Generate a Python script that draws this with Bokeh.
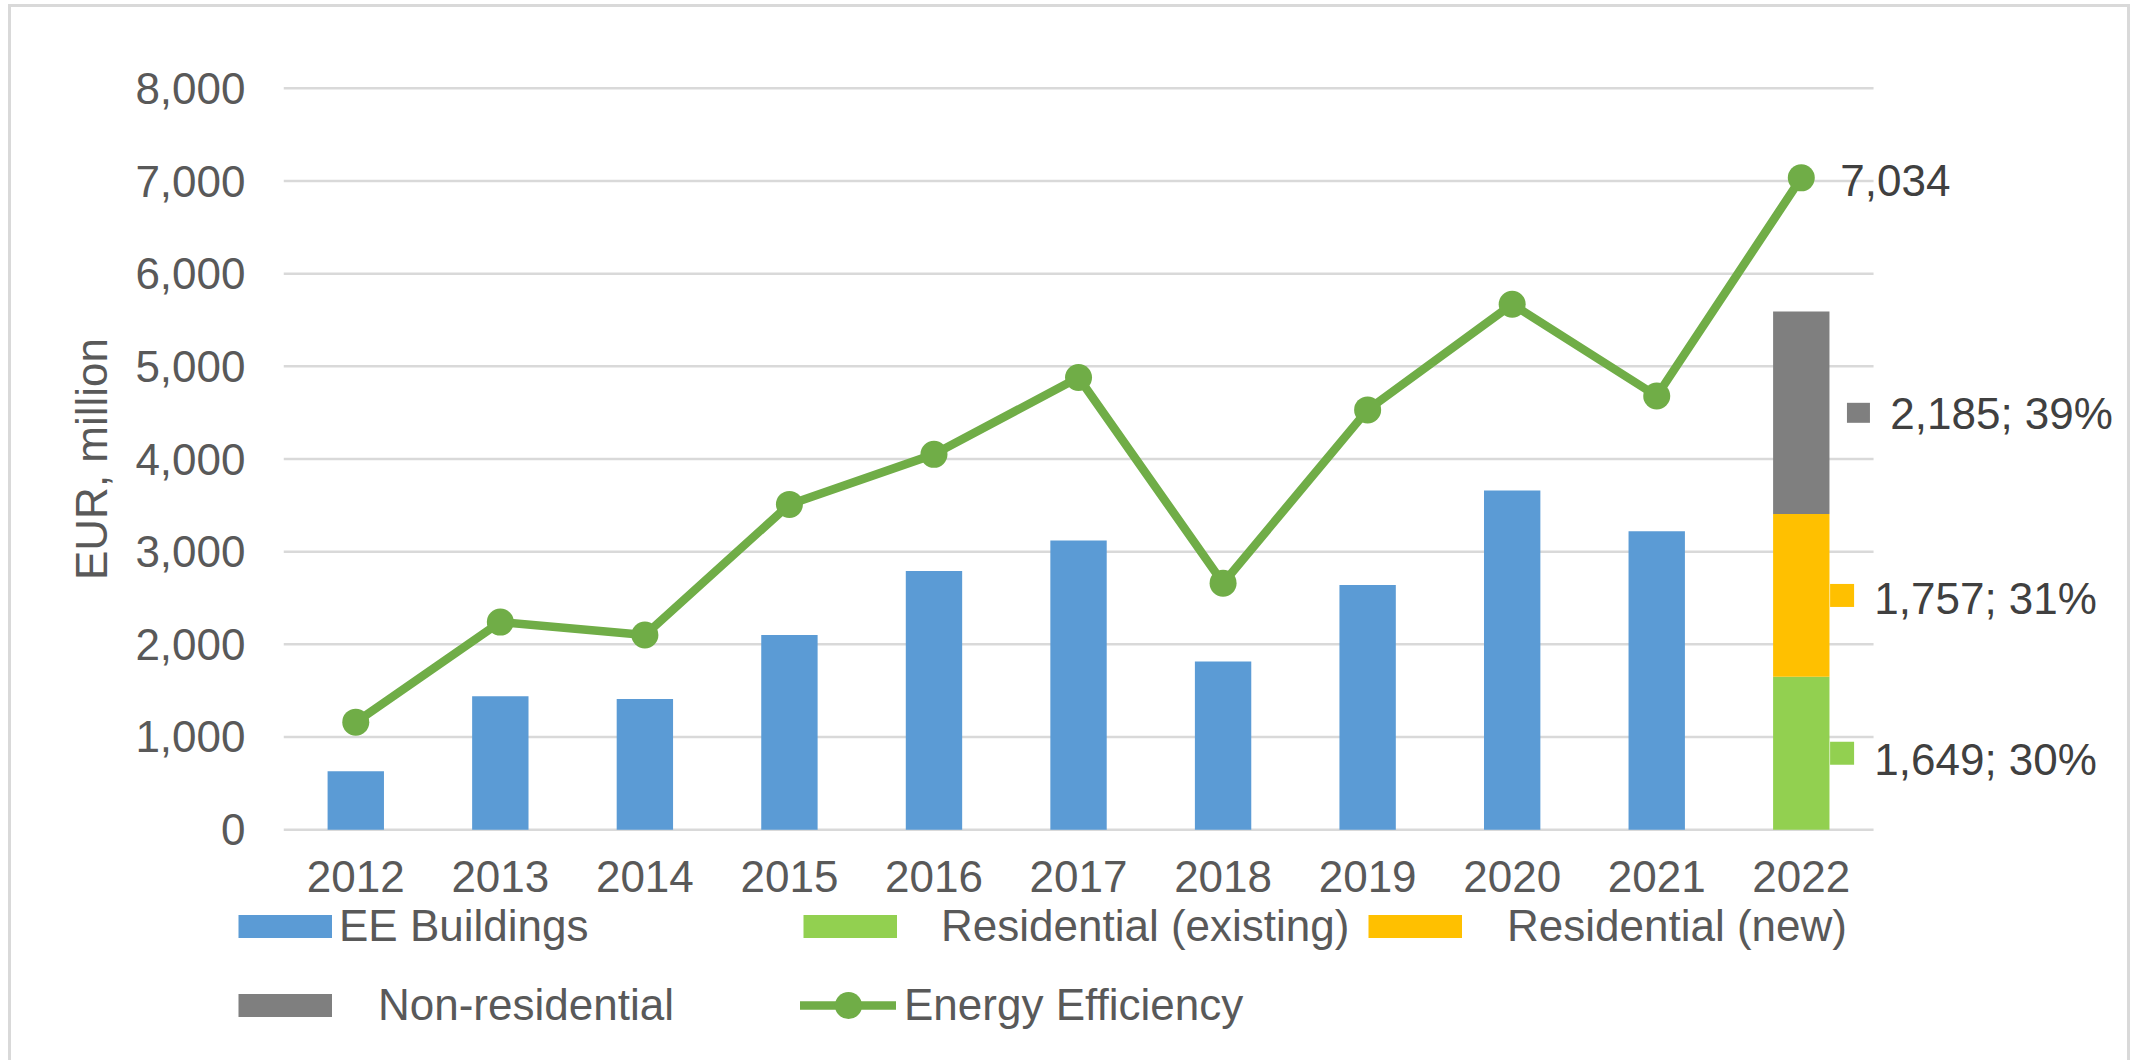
from bokeh.plotting import figure
from bokeh.layouts import column
from bokeh.models import Range1d, FixedTicker, NumeralTickFormatter, Legend, LegendItem, ColumnDataSource
from bokeh.core.properties import value
from bokeh.embed import file_html
from bokeh.resources import INLINE

# ---------------- data ----------------
years = ["2012", "2013", "2014", "2015", "2016", "2017", "2018", "2019", "2020", "2021", "2022"]
ee_buildings = [630, 1440, 1410, 2100, 2790, 3120, 1815, 2640, 3660, 3220]          # 2012-2021
energy_efficiency = [1160, 2240, 2100, 3510, 4050, 4880, 2660, 4530, 5670, 4680, 7034]
stack_year = ["2022"]
residential_existing = [1649]
residential_new = [1757]
non_residential = [2185]
stack_shares = [30, 31, 39]
y_ticks = [0, 1000, 2000, 3000, 4000, 5000, 6000, 7000, 8000]

# ---------------- style ----------------
FONT = "Liberation Sans"
FS = "44px"
BLUE = "#5B9BD5"
LGREEN = "#92D050"
ORANGE = "#FFC000"
GRAY = "#7F7F7F"
LINEG = "#70AD47"
GRID = "#D9D9D9"
TXT = "#595959"
DARK = "#404040"
BAR_W = 0.39
W = 2116
NAN = float("nan")

xi = list(range(len(years)))
xpos = {y: i for i, y in enumerate(years)}

p = figure(width=W, height=904, output_backend="svg", toolbar_location=None,
           x_range=Range1d(-0.5, 12.236), y_range=Range1d(-20, 8020),
           min_border_left=272, min_border_right=3, min_border_top=79, min_border_bottom=80)
p.outline_line_color = None
p.xgrid.visible = False
p.ygrid.visible = False

# horizontal gridlines limited to the category area
p.segment(x0=[-0.5] * len(y_ticks), x1=[len(years) - 0.5] * len(y_ticks), y0=y_ticks, y1=y_ticks,
          line_color=GRID, line_width=2.5)

# EE Buildings bars
p.vbar(x=xi[:len(ee_buildings)], top=ee_buildings, width=BAR_W, fill_color=BLUE, line_color=None)

# 2022 stacked bar
src = ColumnDataSource(dict(x=[xpos[y] for y in stack_year], res_existing=residential_existing,
                            res_new=residential_new, non_res=non_residential))
p.vbar_stack(["res_existing", "res_new", "non_res"], x="x", width=BAR_W, source=src,
             fill_color=[LGREEN, ORANGE, GRAY], line_color=None)

# Energy efficiency line
p.line(xi, energy_efficiency, line_width=8.5, line_color=LINEG, line_join="round", line_cap="round")
p.scatter(xi, energy_efficiency, size=27, fill_color=LINEG, line_color=None)

p.text(x=[xi[-1]], y=[energy_efficiency[-1]], text=[f"{energy_efficiency[-1]:,}"],
       x_offset=39, y_offset=3, text_baseline="middle", text_align="left",
       text_font=value(FONT), text_font_size=FS, text_color=DARK)

# data labels of stacked segments
seg_vals = [residential_existing[0], residential_new[0], non_residential[0]]
mids, acc = [], 0
for v in seg_vals:
    mids.append(acc + v / 2)
    acc += v
sx = xpos[stack_year[0]]
lab = ColumnDataSource(dict(
    xm=[sx + 0.2823, sx + 0.2823, sx + 0.3955],
    y=mids,
    mw=[24, 24, 23], mh=[23, 23, 20],
    color=[LGREEN, ORANGE, GRAY],
    x=[sx] * 3,
    xo=[73, 73, 89],
    yo=[6, 3, 1],
    text=[f"{v:,}; {s}%" for v, s in zip(seg_vals, stack_shares)],
))
p.rect(x="xm", y="y", width="mw", height="mh", width_units="screen", height_units="screen",
       fill_color="color", line_color=None, source=lab)
p.text(x="x", y="y", text="text", x_offset="xo", y_offset="yo", text_baseline="middle", text_align="left",
       text_font=value(FONT), text_font_size=FS, text_color=DARK, source=lab)

# axes
p.yaxis.ticker = FixedTicker(ticks=y_ticks)
p.yaxis.formatter = NumeralTickFormatter(format="0,0")
p.xaxis.ticker = FixedTicker(ticks=xi)
p.xaxis.major_label_overrides = {i: y for i, y in enumerate(years)}
for ax in (p.xaxis, p.yaxis):
    ax.axis_line_color = None
    ax.major_tick_line_color = None
    ax.minor_tick_line_color = None
    ax.major_tick_out = 0
    ax.major_tick_in = 0
    ax.minor_tick_out = 0
    ax.major_label_text_font = FONT
    ax.major_label_text_font_size = FS
    ax.major_label_text_color = TXT
p.yaxis.major_label_standoff = 38
p.xaxis.major_label_standoff = 29
p.yaxis.axis_label = "EUR, million"
p.yaxis.axis_label_text_font = FONT
p.yaxis.axis_label_text_font_size = FS
p.yaxis.axis_label_text_font_style = "normal"
p.yaxis.axis_label_text_color = TXT
p.yaxis.axis_label_standoff = 16

# ---------------- legend strip ----------------
LEG_H = 161
p2 = figure(width=W, height=LEG_H, output_backend="svg", toolbar_location=None,
            x_range=Range1d(0, 1), y_range=Range1d(0, 1), min_border=0,
            x_axis_location=None, y_axis_location=None)
p2.outline_line_color = None
p2.grid.visible = False
p2.background_fill_alpha = 0
p2.border_fill_alpha = 0
p2.styles = {"margin-top": "-12px"}

for fig in (p, p2):
    if "frame_align" in fig.properties():
        fig.frame_align = False

sw_ee = p2.line(x=[NAN], y=[NAN], line_width=23, line_color=BLUE)
sw_ex = p2.line(x=[NAN], y=[NAN], line_width=23, line_color=LGREEN)
sw_new = p2.line(x=[NAN], y=[NAN], line_width=23, line_color=ORANGE)
sw_non = p2.line(x=[NAN], y=[NAN], line_width=23, line_color=GRAY)
sw_line = p2.line(x=[NAN], y=[NAN], line_width=8.5, line_color=LINEG, line_cap="round")
sw_dot = p2.scatter(x=[NAN], y=[NAN], size=27, fill_color=LINEG, line_color=None)


def add_legend(label, renderers, loc, gw, standoff):
    leg = Legend(items=[LegendItem(label=label, renderers=renderers)], location=loc,
                 glyph_width=gw, glyph_height=68, label_standoff=standoff,
                 padding=0, margin=0, spacing=0, border_line_color=None, background_fill_alpha=0,
                 label_text_font=FONT, label_text_font_size=FS, label_text_color=TXT)
    p2.add_layout(leg, "center")


add_legend("EE Buildings", [sw_ee], (227, 100), 94, 7)
add_legend("Residential (existing)", [sw_ex], (792, 100), 94, 44)
add_legend("Residential (new)", [sw_new], (1357, 100), 94, 45)
add_legend("Non-residential", [sw_non], (227, 21), 94, 46)
add_legend("Energy Efficiency", [sw_line, sw_dot], (789, 21), 96, 8)

layout = column(p, p2, spacing=0)
layout.styles = {"margin-left": "8px", "margin-top": "4px",
                 "border-top": "3px solid #D9D9D9", "border-left": "3px solid #D9D9D9",
                 "border-right": "3px solid #D9D9D9"}

open("out.html", "w").write(file_html(layout, INLINE))
